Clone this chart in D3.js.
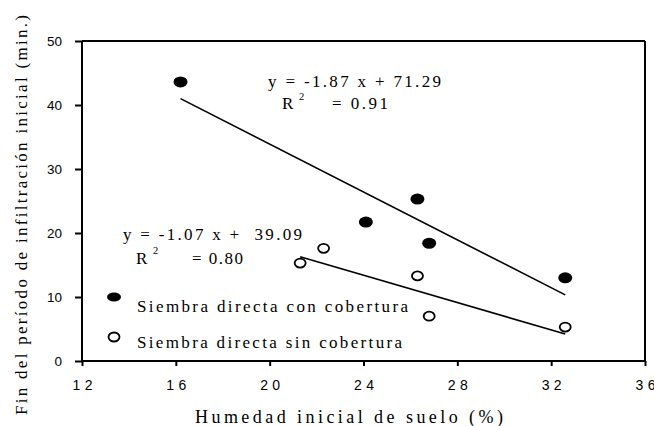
<!DOCTYPE html>
<html>
<head>
<meta charset="utf-8">
<script src="https://cdn.jsdelivr.net/npm/d3@7"></script>
<style>
  body { margin: 0; background: #fff; }
  .serif { font-family: "Liberation Serif", "Times New Roman", serif; fill: #000; }
  .tick text { font-family: "Liberation Sans", Arial, sans-serif; fill: #000; }
</style>
</head>
<body>
<div id="chart"></div>
<script>
// Siembra directa con cobertura (filled)
const conX = [16.2, 24.1, 26.3, 26.8, 32.6];
const conY = [43.6, 21.7, 25.3, 18.4, 13.0];
// Siembra directa sin cobertura (open)
const sinX = [21.3, 22.3, 26.3, 26.8, 32.6];
const sinY = [15.3, 17.6, 13.3, 7.0, 5.3];
// fitted lines: slope, intercept, x range
const conFit = { a: -1.87, b: 71.29, x0: 16.2, x1: 32.6 };
const sinFit = { a: -1.07, b: 39.09, x0: 21.3, x1: 32.6 };
const xTicks = [12, 16, 20, 24, 28, 32, 36];
const yTicks = [0, 10, 20, 30, 40, 50];

const width = 654, height = 426;
const plotL = 82, plotR = 645, plotT = 41, plotB = 361;

const svg = d3.select("#chart").append("svg")
    .attr("width", width)
    .attr("height", height);

const x = d3.scaleLinear().domain([12, 36]).range([plotL, plotR]);
const y = d3.scaleLinear().domain([0, 50]).range([plotB, plotT]);

// box
svg.append("line").attr("x1", plotL).attr("x2", plotR).attr("y1", plotT).attr("y2", plotT)
    .attr("stroke", "#000").attr("stroke-width", 2);
svg.append("line").attr("x1", plotR).attr("x2", plotR).attr("y1", plotT).attr("y2", plotB)
    .attr("stroke", "#000").attr("stroke-width", 2);

const xAxis = svg.append("g")
    .attr("transform", `translate(0,${plotB})`)
    .call(d3.axisBottom(x).tickValues(xTicks).tickSize(5).tickPadding(14).tickFormat(d3.format("d")));
const yAxis = svg.append("g")
    .attr("transform", `translate(${plotL},0)`)
    .call(d3.axisLeft(y).tickValues(yTicks).tickSize(7).tickPadding(13).tickFormat(d3.format("d")));

[xAxis, yAxis].forEach(g => {
  g.select(".domain").remove();
  g.selectAll(".tick line").attr("stroke-width", 2);
});
xAxis.selectAll(".tick text").attr("font-size", 14)
    .attr("textLength", 20).attr("lengthAdjust", "spacing");
yAxis.selectAll(".tick text").attr("font-size", 13.5);

svg.append("line").attr("x1", plotL).attr("x2", plotR).attr("y1", plotB).attr("y2", plotB)
    .attr("stroke", "#000").attr("stroke-width", 2);
svg.append("line").attr("x1", plotL).attr("x2", plotL).attr("y1", plotT).attr("y2", plotB)
    .attr("stroke", "#000").attr("stroke-width", 2);

// trend lines
[conFit, sinFit].forEach(f => {
  svg.append("line")
      .attr("x1", x(f.x0)).attr("y1", y(f.a * f.x0 + f.b))
      .attr("x2", x(f.x1)).attr("y2", y(f.a * f.x1 + f.b))
      .attr("stroke", "#000").attr("stroke-width", 1.6);
});

// points
svg.append("g").selectAll("ellipse")
    .data(d3.zip(conX, conY))
    .join("ellipse")
    .attr("cx", d => x(d[0])).attr("cy", d => y(d[1]))
    .attr("rx", 7).attr("ry", 5.5)
    .attr("fill", "#000");

svg.append("g").selectAll("ellipse")
    .data(d3.zip(sinX, sinY))
    .join("ellipse")
    .attr("cx", d => x(d[0])).attr("cy", d => y(d[1]))
    .attr("rx", 5.5).attr("ry", 4.5)
    .attr("fill", "#fff").attr("stroke", "#000").attr("stroke-width", 1.8);

// text helper
function label(txt, tx, ty, len, size) {
  const t = svg.append("text").attr("class", "serif")
      .attr("x", tx).attr("y", ty)
      .attr("font-size", size || 17)
      .style("white-space", "pre")
      .text(txt);
  if (len) t.attr("textLength", len).attr("lengthAdjust", "spacing");
  return t;
}

// equations
label("y = -1.87 x + 71.29", 268, 87, 173);
label("R", 282, 109);
label("2", 299, 100, null, 10.5);
label("= 0.91", 332, 109, 56);

label("y = -1.07 x +  39.09", 123, 240, 179);
label("R", 136, 264);
label("2", 153, 254, null, 10.5);
label("= 0.80", 192, 264, 51);

// legend
svg.append("ellipse").attr("cx", 114).attr("cy", 297).attr("rx", 7).attr("ry", 4.5).attr("fill", "#000");
label("Siembra directa con cobertura", 137, 312, 271);
svg.append("ellipse").attr("cx", 114).attr("cy", 337).attr("rx", 5.5).attr("ry", 4.5)
    .attr("fill", "#fff").attr("stroke", "#000").attr("stroke-width", 1.8);
label("Siembra directa sin cobertura", 137, 348, 265);

// axis titles
label("Humedad inicial de suelo (%)", 195, 423, 308, 18);
svg.append("text").attr("class", "serif")
    .attr("transform", "translate(27,415) rotate(-90)")
    .attr("font-size", 17)
    .attr("textLength", 400).attr("lengthAdjust", "spacing")
    .text("Fin del período de infiltración inicial (min.)");
</script>
</body>
</html>
